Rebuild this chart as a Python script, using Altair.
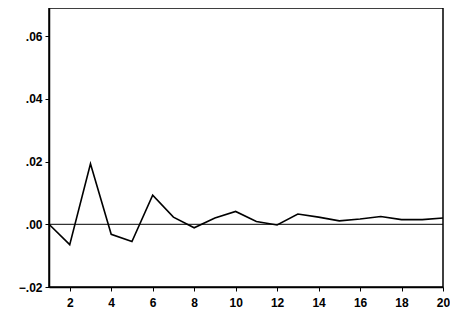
import altair as alt
import pandas as pd

periods = list(range(1, 21))
response = [0.0, -0.0065, 0.0193, -0.0032, -0.0055, 0.0093, 0.0023, -0.0011, 0.0020, 0.0041,
            0.0009, -0.0002, 0.0033, 0.0023, 0.0011, 0.0017, 0.0025, 0.0015, 0.0015, 0.0020]
y_ticks = [-0.02, 0.0, 0.02, 0.04, 0.06]
x_ticks = [2, 4, 6, 8, 10, 12, 14, 16, 18, 20]

df = pd.DataFrame({"period": periods, "value": response})
zero = pd.DataFrame({"z": [0.0]})

font = "Liberation Sans"

x_scale = alt.Scale(domain=[1, 20], nice=False, zero=False)
y_scale = alt.Scale(domain=[-0.02, 0.069], nice=False, zero=False)

line = alt.Chart(df).mark_line(color="black", strokeWidth=1.6).encode(
    x=alt.X("period:Q", scale=x_scale,
            axis=alt.Axis(values=x_ticks, title=None, grid=False, labelFont=font,
                          labelFontSize=12, labelFontWeight="bold", labelColor="black",
                          tickColor="black", tickSize=4, labelPadding=6,
                          domainColor="black", domainWidth=1.5, labelFlush=False)),
    y=alt.Y("value:Q", scale=y_scale,
            axis=alt.Axis(values=y_ticks, title=None, grid=False, labelFont=font,
                          labelFontSize=12, labelFontWeight="bold", labelColor="black",
                          labelExpr="replace(format(datum.value, '.2f'), '0.', '.')",
                          tickColor="black", tickSize=4, labelPadding=3,
                          domainColor="black", domainWidth=1.5,
                          minExtent=36, maxExtent=36)),
)

zline = alt.Chart(zero).mark_rule(color="black", strokeWidth=1).encode(
    y=alt.Y("z:Q", scale=y_scale)
)

chart = (zline + line).properties(
    width=394, height=279,
    padding={"left": 5, "top": 0, "right": 0, "bottom": 0},
).configure(background="white").configure_view(stroke="black", strokeWidth=1.5)

chart.save("out.html", embed_options={"renderer": "svg", "actions": False})
